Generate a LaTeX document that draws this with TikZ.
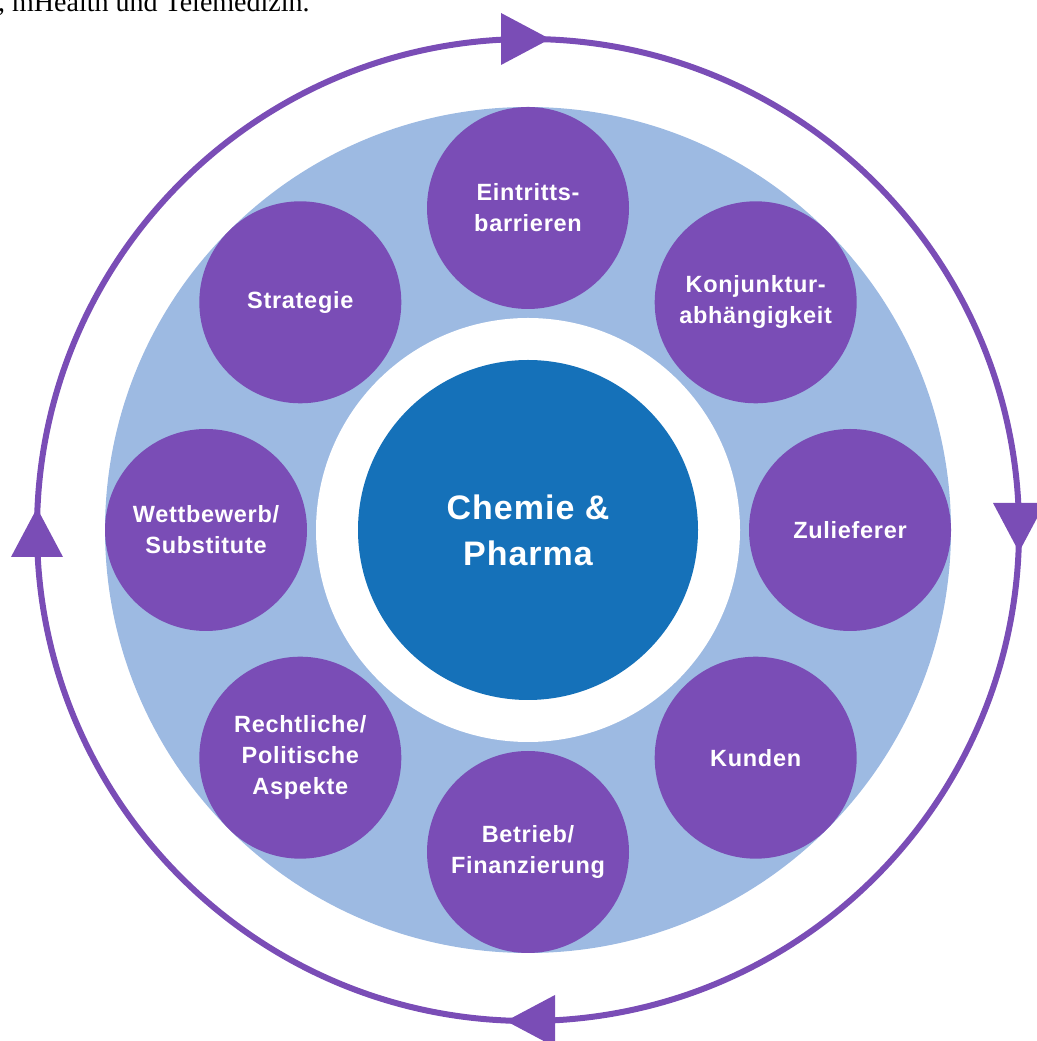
\documentclass[tikz,border=0pt]{standalone}
\usepackage{fontspec}
\setmainfont{Liberation Serif}
\newfontfamily\labelfont[LetterSpace=3]{Liberation Sans}
\usepackage{xcolor}
\usepackage{tikz}

\definecolor{factorpurple}{HTML}{7A4DB6}
\definecolor{discblue}{HTML}{9DBAE2}
\definecolor{coreblue}{HTML}{1571B9}

\begin{document}
\begin{tikzpicture}[x=1pt, y=1pt,
    factor/.style = {circle, fill = factorpurple, minimum size = 202pt, inner sep = 0pt,
      text = white, align = center, font = \labelfont\bfseries\fontsize{23.5}{31}\selectfont},
    core/.style = {circle, fill = coreblue, minimum size = 340pt, inner sep = 0pt,
      text = white, align = center, font = \labelfont\bfseries\fontsize{34}{46}\selectfont}]
    \useasboundingbox (0, 0) rectangle (1036, 1041);
    \coordinate (C) at (528, 511);

    % text of the page above, cut off
    \node[anchor = base west, inner sep = 0pt, font = \fontsize{28}{32}\selectfont] (intro) at (-2, 1029) {, mHealth und Telemedizin.};

    {
      \fill[discblue] (C) circle (423);
      \fill[white] (C) circle (212);
    }
    \node[core] (core) at (C) {Chemie \&\\Pharma};

    \foreach \ang/\name/\txt in {90/barrieren/{Eintritts-\\barrieren},
        45/konjunktur/{Konjunktur-\\abhängigkeit},
        0/zulieferer/{Zulieferer},
        -45/kunden/{Kunden},
        -90/betrieb/{Betrieb/\\Finanzierung},
        -135/recht/{Rechtliche/\\Politische\\Aspekte},
        180/wettbewerb/{Wettbewerb/\\Substitute},
        135/strategie/{Strategie}}
      \node[factor] (\name) at ([shift = {(\ang:322)}] C) {\txt};

    % cycle ring, clockwise
    \draw[factorpurple, line width = 6pt] (C) circle (491);
    \foreach \ang in {90, 0, -90, 180}
      \fill[factorpurple, shift = {(C)}, rotate = \ang] (465, 27) -- (517, 27) -- (491, -22) -- cycle;
  \end{tikzpicture}
\end{document}
